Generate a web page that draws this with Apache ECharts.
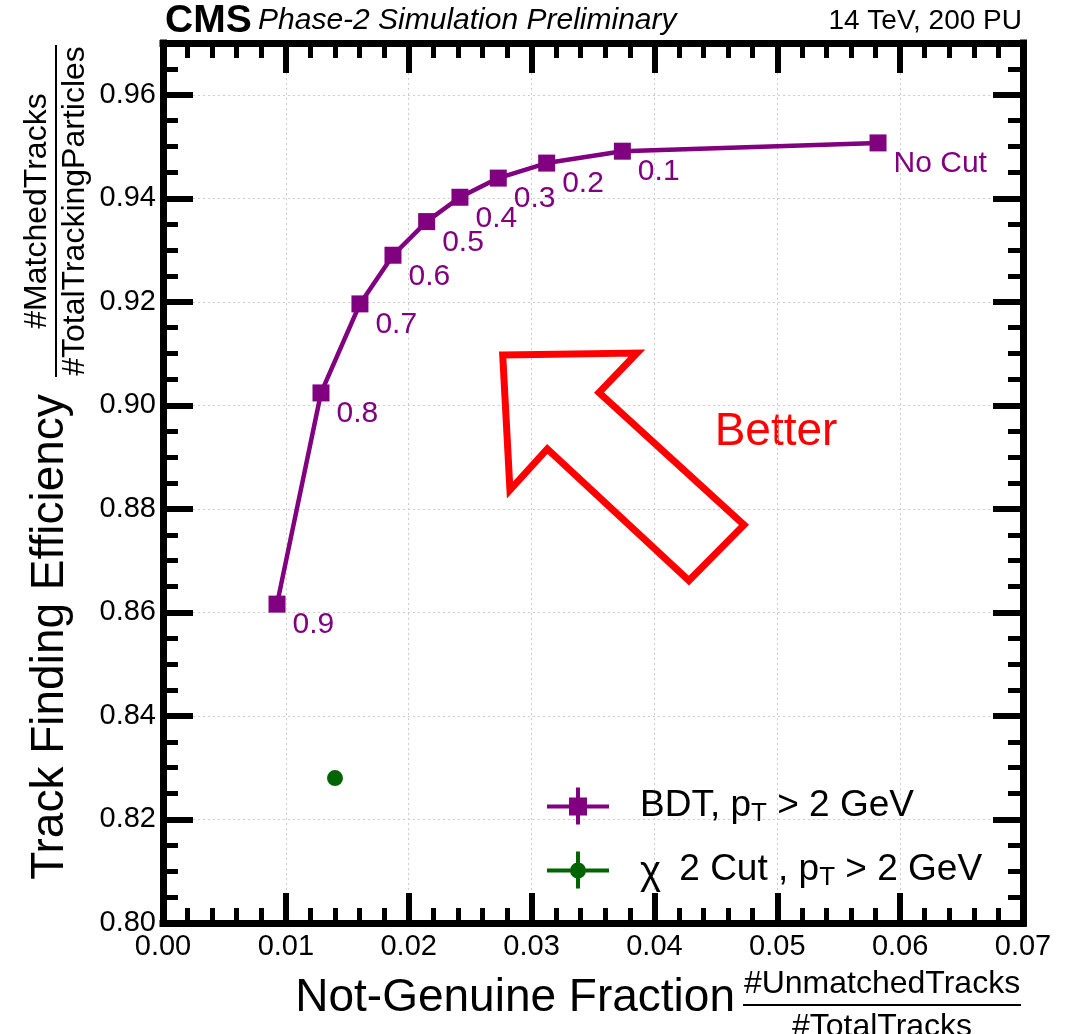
<!DOCTYPE html>
<html>
<head>
<meta charset="utf-8">
<script src="https://cdn.jsdelivr.net/npm/echarts@6/dist/echarts.min.js"></script>
<style>
html,body{margin:0;padding:0;background:#fff;}
#chart{width:1076px;height:1034px;}
</style>
</head>
<body>
<div id="chart"></div>
<script>
// ---- data ----
const bdtX = [0.00928, 0.01286, 0.01603, 0.01872, 0.02146, 0.02417, 0.02729, 0.03123, 0.03739, 0.0582];
const bdtY = [0.8616, 0.9024, 0.9196, 0.9290, 0.9355, 0.9402, 0.9439, 0.9468, 0.9491, 0.9507];
const cutLabels = ['0.9', '0.8', '0.7', '0.6', '0.5', '0.4', '0.3', '0.2', '0.1', 'No Cut'];
const chi2X = [0.0140];
const chi2Y = [0.8280];
const arrowX = [0.02765, 0.03858, 0.03549, 0.04729, 0.04281, 0.03128, 0.02824];
const arrowY = [0.90973, 0.91011, 0.90248, 0.87689, 0.86616, 0.89157, 0.88365];
const xTicks = ['0.00', '0.01', '0.02', '0.03', '0.04', '0.05', '0.06', '0.07'];
const yTicks = ['0.80', '0.82', '0.84', '0.86', '0.88', '0.90', '0.92', '0.94', '0.96'];

const FONT = "'Liberation Sans', Arial, Helvetica, sans-serif";
const PURPLE = '#800080';
const GREEN = '#006400';

const chart = echarts.init(document.getElementById('chart'));

function axisCommon(isX, main) {
  return {
    type: 'value',
    min: isX ? 0 : 0.8,
    max: isX ? 0.07 : 0.97,
    interval: isX ? 0.01 : 0.02,
    axisLine: { show: true, onZero: false, lineStyle: { color: '#000', width: 7, cap: 'square' } },
    axisTick: { show: true, inside: true, length: 30, lineStyle: { color: '#000', width: 6 } },
    minorTick: { show: true, splitNumber: isX ? 5 : 4, length: 15, lineStyle: { color: '#000', width: 5 } },
    axisLabel: main ? {
      show: true, fontSize: 29, fontFamily: FONT, color: '#000', margin: isX ? 9 : 7,
      showMaxLabel: isX ? true : false,
      formatter: function (v) {
        const arr = isX ? xTicks : yTicks;
        const base = isX ? 0 : 0.8, step = isX ? 0.01 : 0.02;
        const i = Math.round((v - base) / step);
        return arr[i] !== undefined ? arr[i] : '';
      }
    } : { show: false },
    splitLine: main ? { show: true, lineStyle: { color: '#cccccc', width: 1, type: [2, 3] } } : { show: false },
    minorSplitLine: { show: false }
  };
}

const xa0 = axisCommon(true, true); xa0.position = 'bottom';
const xa1 = axisCommon(true, false); xa1.position = 'top';
const ya0 = axisCommon(false, true); ya0.position = 'left';
const ya1 = axisCommon(false, false); ya1.position = 'right';

const legendIcons = {
  BDT: 'path://M0 17H62V21H0Z M29 0H33V37H29Z M22 10H40V28H22Z',
  chi2: 'path://M0 17H62V21H0Z M29 0H33V37H29Z M23 19A8 8 0 1 1 39 19A8 8 0 1 1 23 19Z'
};

const option = {
  animation: false,
  backgroundColor: '#fff',
  grid: { left: 163, right: 53, top: 43, bottom: 111, containLabel: false },
  xAxis: [xa0, xa1],
  yAxis: [ya0, ya1],
  legend: {
    orient: 'vertical',
    left: 547,
    top: 785,
    padding: 0,
    itemWidth: 62,
    itemHeight: 37,
    itemGap: 20,
    selectedMode: false,
    data: [
      { name: 'BDT', icon: legendIcons.BDT },
      { name: 'chi2', icon: legendIcons.chi2 }
    ],
    formatter: function (name) {
      if (name === 'BDT') return '{m|BDT, p}{s|T}{m| > 2 GeV}';
      return '{c|\u03C7}{m| 2 Cut , p}{s|T}{m| > 2 GeV}';
    },
    textStyle: {
      color: '#000', fontFamily: FONT, fontSize: 37, padding: [0, 0, 0, 26],
      rich: {
        m: { fontSize: 37, lineHeight: 39, fontFamily: FONT, color: '#000' },
        c: { fontSize: 40, lineHeight: 40, padding: [6, 8, 0, 0], fontFamily: FONT, color: '#000' },
        s: { fontSize: 26, lineHeight: 26, padding: [16, 0, 0, 0], fontFamily: FONT, color: '#000' }
      }
    }
  },
  series: [
    {
      name: 'arrow',
      type: 'custom',
      xAxisIndex: 0, yAxisIndex: 0,
      silent: true,
      data: arrowX.map((x, i) => [x, arrowY[i]]),
      renderItem: function (params, api) {
        if (params.dataIndex !== 0) return null;
        const pts = arrowX.map((x, i) => api.coord([x, arrowY[i]]));
        return {
          type: 'polygon',
          shape: { points: pts },
          style: { fill: 'none', stroke: '#ff0000', lineWidth: 7, lineJoin: 'miter', miterLimit: 20 }
        };
      },
      z: 2
    },
    {
      name: 'BDT',
      type: 'line',
      xAxisIndex: 0, yAxisIndex: 0,
      data: bdtX.map((x, i) => [x, bdtY[i]]),
      symbol: 'rect',
      symbolSize: 17,
      color: PURPLE,
      lineStyle: { color: PURPLE, width: 4.5 },
      itemStyle: { color: PURPLE },
      label: {
        show: true,
        position: 'right',
        distance: 7,
        offset: [0, 21],
        color: PURPLE,
        fontSize: 30,
        fontFamily: FONT,
        formatter: function (p) { return cutLabels[p.dataIndex]; }
      },
      z: 5
    },
    {
      name: 'chi2',
      type: 'scatter',
      xAxisIndex: 0, yAxisIndex: 0,
      data: chi2X.map((x, i) => [x, chi2Y[i]]),
      symbol: 'circle',
      symbolSize: 16,
      color: GREEN,
      itemStyle: { color: GREEN, opacity: 1 },
      z: 5
    }
  ],
  graphic: [
    { type: 'text', left: 165, top: 2, style: { text: 'CMS', font: 'bold 39px ' + FONT, fill: '#000' } },
    { type: 'text', left: 258, top: 6, style: { text: 'Phase-2 Simulation Preliminary', font: 'italic 30px ' + FONT, fill: '#000' } },
    { type: 'text', right: 54, top: 7, style: { text: '14 TeV, 200 PU', font: '28px ' + FONT, fill: '#000' } },
    { type: 'text', x: 735, y: 998, style: { text: 'Not-Genuine Fraction', font: '46px ' + FONT, fill: '#000', align: 'right', verticalAlign: 'middle' } },
    { type: 'text', x: 882, y: 984, style: { text: '#UnmatchedTracks', font: '32px ' + FONT, fill: '#000', align: 'center', verticalAlign: 'middle' } },
    { type: 'line', shape: { x1: 743, y1: 1005, x2: 1021, y2: 1005 }, style: { stroke: '#000', lineWidth: 2 } },
    { type: 'text', x: 882, y: 1027, style: { text: '#TotalTracks', font: '32px ' + FONT, fill: '#000', align: 'center', verticalAlign: 'middle' } },
    { type: 'text', x: 50, y: 637, rotation: Math.PI / 2, style: { text: 'Track Finding Efficiency', font: '46px ' + FONT, fill: '#000', align: 'center', verticalAlign: 'middle' } },
    { type: 'text', x: 37, y: 211, rotation: Math.PI / 2, style: { text: '#MatchedTracks', font: '32px ' + FONT, fill: '#000', align: 'center', verticalAlign: 'middle' } },
    { type: 'line', shape: { x1: 56, y1: 45, x2: 56, y2: 377 }, style: { stroke: '#000', lineWidth: 2 } },
    { type: 'text', x: 75, y: 211, rotation: Math.PI / 2, style: { text: '#TotalTrackingParticles', font: '32px ' + FONT, fill: '#000', align: 'center', verticalAlign: 'middle' } },
    { type: 'text', x: 776, y: 432, style: { text: 'Better', font: '46px ' + FONT, fill: '#ff0000', align: 'center', verticalAlign: 'middle' } }
  ]
};
chart.setOption(option);
</script>
</body>
</html>
